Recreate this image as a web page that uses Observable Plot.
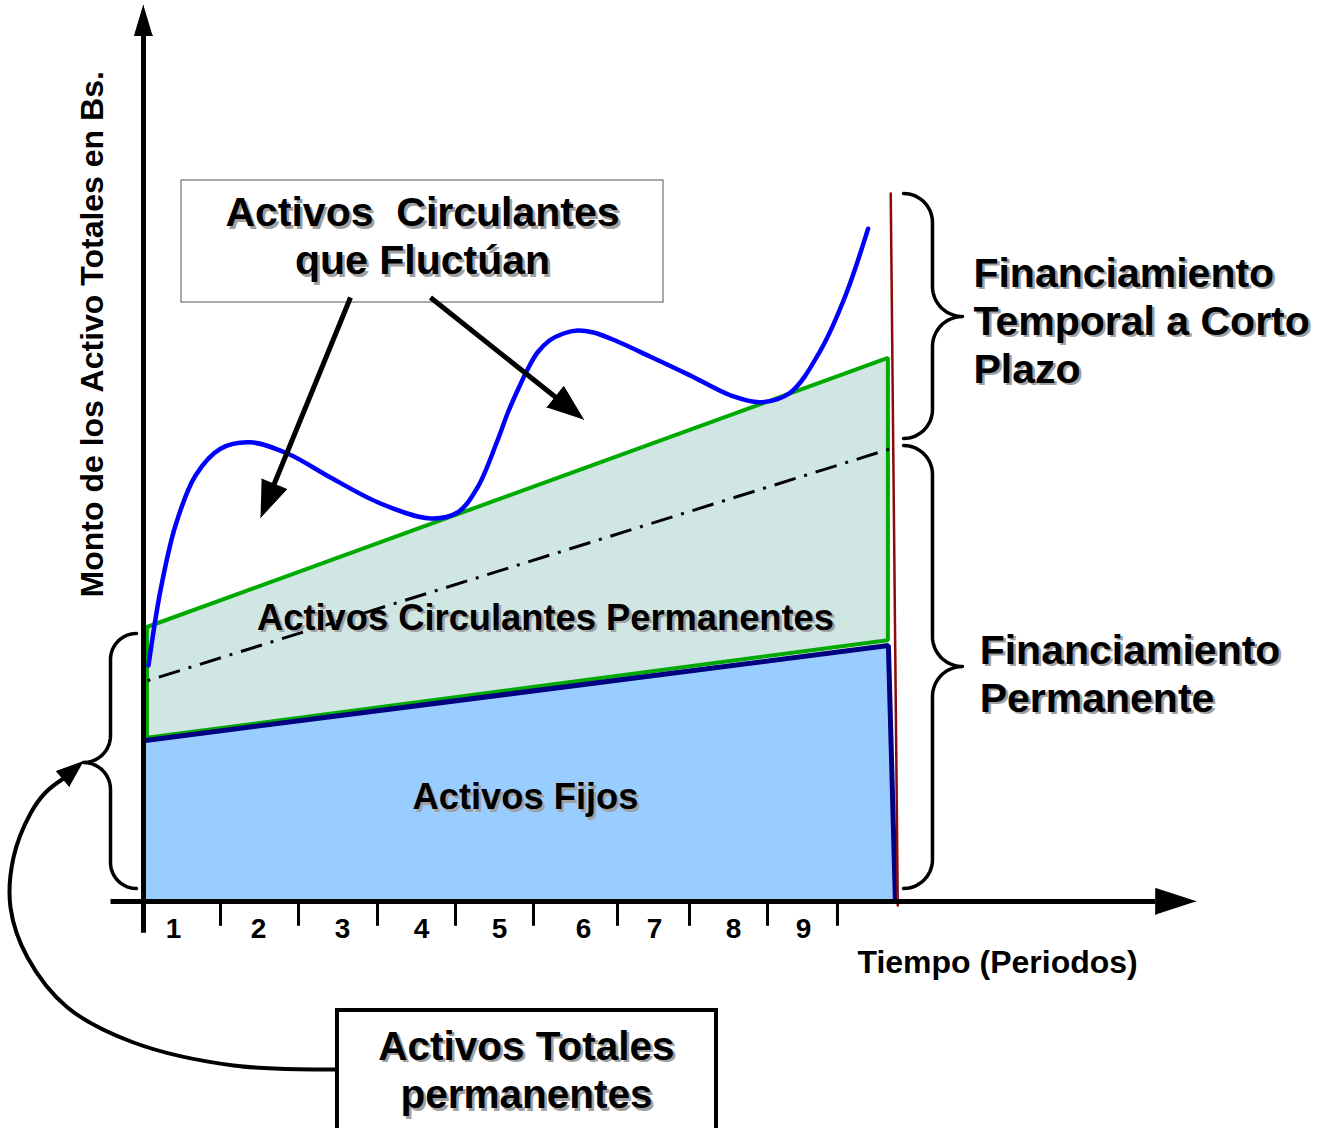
<!DOCTYPE html>
<html><head><meta charset="utf-8">
<script src="https://cdn.jsdelivr.net/npm/d3@7"></script>
<script src="https://cdn.jsdelivr.net/npm/@observablehq/plot@0.6"></script>
<style>body{margin:0;background:#fff} svg{display:block}</style>
</head><body><div id="chart"></div>
<script>
// ---------- scales (x: periods, y: amount in Bs., arbitrary units) ----------
const X_DOMAIN = [0, 10], X_RANGE = [143, 923];
const Y_DOMAIN = [0, 100], Y_RANGE = [901, 101];
const PX = (X_RANGE[1] - X_RANGE[0]) / (X_DOMAIN[1] - X_DOMAIN[0]);
const PY = (Y_RANGE[0] - Y_RANGE[1]) / (Y_DOMAIN[1] - Y_DOMAIN[0]);

// ---------- data ----------
const periodLabels = ["1","2","3","4","5","6","7","8","9"];
const periodLabelX = [0.385, 1.474, 2.551, 3.564, 4.564, 5.641, 6.551, 7.564, 8.462];
const tickX = [0.987, 1.987, 3.0, 4.0, 5.0, 6.077, 7.0, 8.0, 8.897];

// Activos Fijos (polygon)
const fijosX = [0, 9.55, 9.64, 0];
const fijosY = [20.1, 32.0, 0, 0];
// Activos Circulantes Permanentes (band)
const permX = [0.05, 9.55];
const permLow = [20.4, 32.6];
const permHigh = [34.25, 67.9];
// dash-dot trend line
const trendX = [0.05, 9.58];
const trendY = [27.6, 56.6];
// Activos Circulantes que fluctúan (blue curve)
const fluctX = [0.064, 0.218, 0.41, 0.667, 0.987, 1.372, 1.846, 2.397, 3.038, 3.679, 4.026, 4.282, 4.538, 4.667, 4.795, 4.923, 5.051, 5.205, 5.385, 5.564, 5.769, 5.987, 6.5, 7.0, 7.53, 7.91, 8.29, 8.68, 9.0, 9.29];
const fluctY = [29.5, 38.9, 47.0, 53.25, 56.6, 57.4, 56.0, 53.0, 49.75, 47.875, 48.625, 51.75, 57.625, 61.0, 63.875, 66.5, 68.625, 70.125, 71.0, 71.375, 71.125, 70.375, 68.1, 65.8, 63.25, 62.4, 63.6, 68.9, 75.75, 84.1];
// horizon line (red)
const cutX = [9.58, 9.67];
const cutY = [88.5, -0.5];

// axes
const xAxisX = [-0.423, 12.97], xAxisTip = [13.49, 0];
const yAxisY = [-3.9, 108.25], yAxisTip = [0, 112];

// callout boxes
const boxTop = {x1: 0.487, x2: 6.667, y1: 74.875, y2: 90.125};
const boxBottom = {x1: 2.487, x2: 7.346, y1: -29.5, y2: -13.625};
// straight callout arrows: [fromX, fromY, tipX, tipY]
const calloutArrows = [[2.654, 75.5, 1.5, 48.0], [3.679, 75.5, 5.641, 60.25]];
// curved callout arrow
const curveX = [2.487, 1.154, -0.128, -0.974, -1.487, -1.705, -1.667, -1.449, -1.256, -1.026];
const curveY = [-21.0, -20.5, -17.625, -13.25, -7.0, -0.75, 5.5, 11.0, 13.625, 15.375];
const curveTip = [-0.769, 17.5];

// braces: [xEnd, xBody, xTip, yTop, yBottom, yTip]
const braces = [
  [9.744, 10.115, 10.5, 88.5, 57.875, 73.125],
  [9.744, 10.115, 10.5, 57.0, 1.625, 29.375],
  [-0.09, -0.423, -0.769, 33.5, 1.625, 17.375]
];

// text
const titleBoxText = "Activos\u00a0 Circulantes\nque Fluctúan";
const rightTexts = [
  {text: "Financiamiento\nTemporal a Corto\nPlazo", x: 10.64, y: 72.75},
  {text: "Financiamiento\nPermanente", x: 10.72, y: 28.65}
];
const areaTexts = [
  {text: "Activos Circulantes Permanentes", x: 5.154, y: 35.4},
  {text: "Activos Fijos", x: 4.897, y: 13.0}
];
const bottomBoxText = "Activos Totales\npermanentes";
const xTitle = "Tiempo (Periodos)";
const yTitle = "Monto de los Activo Totales en Bs.";

// ---------- helpers ----------
const zip = (xs, ys) => xs.map((x, i) => ({x, y: ys[i]}));
function headPoly(fromX, fromY, tipX, tipY, L, W, id) {
  let dx = (tipX - fromX) * PX, dy = (tipY - fromY) * PY;
  const n = Math.hypot(dx, dy); dx /= n; dy /= n;
  const bx = -L * dx, by = -L * dy;
  const nx = -dy * W / 2, ny = dx * W / 2;
  return [
    {x: tipX, y: tipY, id},
    {x: tipX + (bx + nx) / PX, y: tipY + (by + ny) / PY, id},
    {x: tipX + (bx - nx) / PX, y: tipY + (by - ny) / PY, id}
  ];
}
function shaftEnd(fromX, fromY, tipX, tipY, back) {
  let dx = (tipX - fromX) * PX, dy = (tipY - fromY) * PY;
  const n = Math.hypot(dx, dy);
  return [tipX - dx / n * back / PX, tipY - dy / n * back / PY];
}
function bracePoints([xe, xb, xt, yTop, yBot, yTip], id) {
  const s = Math.sign(xb - xe);
  const r1 = Math.abs(xb - xe) * PX, r2 = Math.abs(xt - xb) * PX;
  const E = xe * PX, B = xb * PX;
  const y0 = yTop * PY, y1 = yBot * PY, ym = yTip * PY;
  const pts = [];
  const N = 16;
  for (let i = 0; i <= N; i++) { const t = i / N * Math.PI / 2; pts.push([E + s * r1 * Math.sin(t), y0 - r1 + r1 * Math.cos(t)]); }
  for (let i = 0; i <= N; i++) { const t = i / N * Math.PI / 2; pts.push([B + s * r2 - s * r2 * Math.cos(t), ym + r2 - r2 * Math.sin(t)]); }
  for (let i = N; i >= 0; i--) { const t = i / N * Math.PI / 2; pts.push([B + s * r2 - s * r2 * Math.cos(t), ym - r2 + r2 * Math.sin(t)]); }
  for (let i = N; i >= 0; i--) { const t = i / N * Math.PI / 2; pts.push([E + s * r1 * Math.sin(t), y1 + r1 - r1 * Math.cos(t)]); }
  return pts.map(([x, y]) => ({x: x / PX, y: y / PY, id}));
}

// ---------- derived tables ----------
const fijos = zip(fijosX, fijosY);
const perm = permX.map((x, i) => ({x, lo: permLow[i], hi: permHigh[i]}));
const trend = zip(trendX, trendY);
const fluct = zip(fluctX, fluctY);
const cut = zip(cutX, cutY);
const braceData = braces.flatMap((b, i) => bracePoints(b, i));
const curve = zip(curveX, curveY);

const heads = [
  ...headPoly(0, yAxisY[1], yAxisTip[0], yAxisTip[1], 30, 18, "ya"),
  ...headPoly(xAxisX[1], 0, xAxisTip[0], xAxisTip[1], 40, 26, "xa"),
  ...calloutArrows.flatMap((a, i) => headPoly(a[0], a[1], a[2], a[3], 36, 27, "c" + i)),
  ...headPoly(curveX[curveX.length - 1], curveY[curveY.length - 1], curveTip[0], curveTip[1], 27, 20, "cv")
];
const shafts = calloutArrows.map(a => {
  const [ex, ey] = shaftEnd(a[0], a[1], a[2], a[3], 20);
  return {x1: a[0], y1: a[1], x2: ex, y2: ey};
});
const axisLines = [
  {x1: xAxisX[0], y1: 0, x2: xAxisX[1], y2: 0},
  {x1: 0, y1: yAxisY[0], x2: 0, y2: yAxisY[1]}
];

const FONT = "'Liberation Sans', Arial, Helvetica, sans-serif";
function shadowText(data, opts) {
  return [
    Plot.text(data, {...opts, fill: "#a0a0a0", dx: 2.5, dy: 2.5, fontWeight: "bold"}),
    Plot.text(data, {...opts, fill: "#000", fontWeight: "bold"})
  ];
}

const chart = Plot.plot({
  width: 1324, height: 1128, margin: 0,
  x: {domain: X_DOMAIN, range: X_RANGE, axis: null},
  y: {domain: Y_DOMAIN, range: Y_RANGE, axis: null},
  style: {fontFamily: FONT, overflow: "visible", background: "#fff"},
  marks: [
    Plot.areaY(perm, {x: "x", y1: "lo", y2: "hi", fill: "#cfe6e3", stroke: "#00aa00", strokeWidth: 4, strokeLinejoin: "miter"}),
    Plot.line(fijos, {x: "x", y: "y", fill: "#99ccff", stroke: "#3333aa", strokeWidth: 1}),
    Plot.line(fijos.slice(0, 3), {x: "x", y: "y", stroke: "#000080", strokeWidth: 5, strokeLinejoin: "miter", strokeLinecap: "butt"}),
    Plot.line(trend, {x: "x", y: "y", stroke: "#000", strokeWidth: 3, strokeDasharray: "3,9,22,9", strokeLinecap: "butt"}),
    Plot.line(fluct, {x: "x", y: "y", curve: "catmull-rom", stroke: "#0000ff", strokeWidth: 4.5}),
    Plot.line(cut, {x: "x", y: "y", stroke: "#8b0a0a", strokeWidth: 2.5}),
    Plot.link(axisLines, {x1: "x1", y1: "y1", x2: "x2", y2: "y2", stroke: "#000", strokeWidth: 5, strokeLinecap: "butt"}),
    Plot.ruleX(tickX, {x: d => d, y1: -0.2, y2: -3.1, stroke: "#000", strokeWidth: 3}),
    Plot.text(periodLabels, {x: (d, i) => periodLabelX[i], y: -3.5, text: d => d, fontSize: 28, fontWeight: "bold", fill: "#000"}),
    Plot.text([xTitle], {x: 10.95, y: -7.6, text: d => d, fontSize: 32, fontWeight: "bold", fill: "#000"}),
    Plot.text([yTitle], {x: -0.654, y: 70.9, text: d => d, rotate: -90, fontSize: 32, fontWeight: "bold", fill: "#000"}),
    Plot.line(braceData, {x: "x", y: "y", z: "id", stroke: "#000", strokeWidth: 3.5, curve: "linear"}),
    Plot.rect([boxTop], {x1: "x1", x2: "x2", y1: "y1", y2: "y2", fill: "#fff", stroke: "#555", strokeWidth: 1}),
    ...shadowText([titleBoxText], {x: 3.577, y: 83.35, text: d => d, fontSize: 41, lineHeight: 1.17}),
    Plot.link(shafts, {x1: "x1", y1: "y1", x2: "x2", y2: "y2", stroke: "#000", strokeWidth: 5, strokeLinecap: "butt"}),
    Plot.line(curve, {x: "x", y: "y", curve: "catmull-rom", stroke: "#000", strokeWidth: 4}),
    Plot.rect([boxBottom], {x1: "x1", x2: "x2", y1: "y1", y2: "y2", fill: "#fff", stroke: "#000", strokeWidth: 4}),
    ...shadowText([bottomBoxText], {x: 4.91, y: -20.85, text: d => d, fontSize: 40.5, lineHeight: 1.2}),
    Plot.line(heads, {x: "x", y: "y", z: "id", fill: "#000", stroke: "#000", strokeWidth: 1, strokeLinejoin: "miter"}),
    ...shadowText(areaTexts, {x: "x", y: "y", text: "text", fontSize: 36.3}),
    ...shadowText(rightTexts, {x: "x", y: "y", text: "text", fontSize: 41, lineHeight: 1.17, textAnchor: "start"})
  ]
});
document.getElementById("chart").appendChild(chart);
</script>
</body></html>
